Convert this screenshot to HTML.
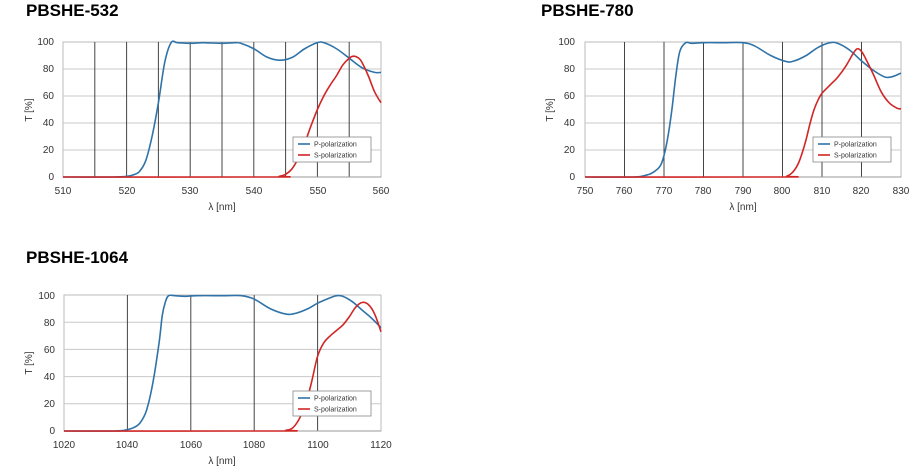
<!DOCTYPE html>
<html><head><meta charset="utf-8"><style>
html,body{margin:0;padding:0;background:#fff;}
svg{display:block;font-family:"Liberation Sans",Arial,sans-serif;}
.t{font-weight:bold;font-size:17px;fill:#000;}
.tk{font-size:10px;fill:#333;}
.lg{font-size:7px;fill:#333;}
</style></head><body>
<svg id="s" width="915" height="475" viewBox="0 0 915 475" xmlns="http://www.w3.org/2000/svg">
<text class="t" x="26" y="16">PBSHE-532</text>
<text class="t" x="541" y="16">PBSHE-780</text>
<text class="t" x="26" y="263">PBSHE-1064</text>
<g id="g"></g>
<!-- chart1 labels -->
<g class="tk" text-anchor="end">
<text x="54" y="45">100</text><text x="54" y="72">80</text><text x="54" y="99">60</text><text x="54" y="126">40</text><text x="54" y="153">20</text><text x="54" y="180">0</text>
<text x="575" y="45">100</text><text x="575" y="72">80</text><text x="575" y="99">60</text><text x="575" y="126">40</text><text x="575" y="153">20</text><text x="575" y="180">0</text>
<text x="55" y="299">100</text><text x="55" y="326">80</text><text x="55" y="353">60</text><text x="55" y="380">40</text><text x="55" y="407">20</text><text x="55" y="434">0</text>
</g>
<g class="tk" text-anchor="middle">
<text x="63" y="194">510</text><text x="127" y="194">520</text><text x="190" y="194">530</text><text x="254" y="194">540</text><text x="318" y="194">550</text><text x="381" y="194">560</text>
<text x="585" y="194">750</text><text x="624" y="194">760</text><text x="664" y="194">770</text><text x="703" y="194">780</text><text x="743" y="194">790</text><text x="782" y="194">800</text><text x="822" y="194">810</text><text x="861" y="194">820</text><text x="901" y="194">830</text>
<text x="64" y="448">1020</text><text x="127" y="448">1040</text><text x="191" y="448">1060</text><text x="254" y="448">1080</text><text x="318" y="448">1100</text><text x="381" y="448">1120</text>
<text x="222" y="210">λ [nm]</text><text x="743" y="210">λ [nm]</text><text x="222" y="464">λ [nm]</text>
<text transform="translate(32,110) rotate(-90)">T [%]</text>
<text transform="translate(553,110) rotate(-90)">T [%]</text>
<text transform="translate(32,363) rotate(-90)">T [%]</text>
</g>
</svg>
<script>
var g=document.getElementById('g'),NS='http://www.w3.org/2000/svg';
function el(n,a){var e=document.createElementNS(NS,n);for(var k in a)e.setAttribute(k,a[k]);g.appendChild(e);return e;}
function path(pts,fx,fy,c){var p=pts.map(function(q){return [fx(q[0]),fy(q[1])];});
var d='M'+p[0][0]+','+p[0][1];
for(var i=0;i<p.length-1;i++){var p0=p[Math.max(i-1,0)],p1=p[i],p2=p[i+1],p3=p[Math.min(i+2,p.length-1)];
d+=' C'+(p1[0]+(p2[0]-p0[0])/6)+','+(p1[1]+(p2[1]-p0[1])/6)+' '+(p2[0]-(p3[0]-p1[0])/6)+','+(p2[1]-(p3[1]-p1[1])/6)+' '+p2[0]+','+p2[1];}
el('path',{d:d,fill:'none',stroke:c,'stroke-width':1.6});}
function chart(L,R,T,B,x0,x1,vg,P,S,lx,ly){
 var fx=function(v){return L+(v-x0)*(R-L)/(x1-x0)},fy=function(v){return B-v*(B-T)/100};
 el('rect',{x:L,y:T,width:R-L,height:B-T,fill:'#fff',stroke:'#bbb','stroke-width':1});
 for(var i=1;i<5;i++)el('line',{x1:L,x2:R,y1:fy(i*20),y2:fy(i*20),stroke:'#c8c8c8','stroke-width':1});
 vg.forEach(function(v){el('line',{x1:fx(v),x2:fx(v),y1:T,y2:B,stroke:'#444','stroke-width':1});});
 el('line',{x1:L,x2:R,y1:B,y2:B,stroke:'#999'});
 path(P,fx,fy,'#2f73a8');path(S,fx,fy,'#d02626');
 el('rect',{x:lx,y:ly,width:78,height:25,fill:'#fff',stroke:'#888','stroke-width':0.8});
 el('line',{x1:lx+5,x2:lx+17,y1:ly+7,y2:ly+7,stroke:'#2f73a8','stroke-width':1.6});
 el('line',{x1:lx+5,x2:lx+17,y1:ly+18,y2:ly+18,stroke:'#d02626','stroke-width':1.6});
 var t=el('text',{x:lx+21,y:ly+9.5,'class':'lg'});t.textContent='P-polarization';
 t=el('text',{x:lx+21,y:ly+20.5,'class':'lg'});t.textContent='S-polarization';
}
chart(63,381,42,177,510,560,[515,520,525,530,535,540,545,550,555],
[[510,0],[518,0],[520,0.5],[521,1.5],[522,4],[523,12],[524,30],[525,55],[526,85],[527,99.5],[528,99.5],[530,99],[532,99.5],[535,99],[537,99.5],[538,99],[540,95],[542,89],[544,86.5],[546,88.5],[548,95],[550,99.5],[551,99.5],[553,95],[555,88],[557,81],[559,77.5],[560,77.5]],
[[510,0],[543,0],[544,0.5],[545,2],[546,6],[547,14],[548,25],[549,38],[550,50],[551,60],[552,68],[553,75],[554,83],[555,88],[555.7,89.5],[556.5,88],[557,85],[558,75],[559,63],[560,55]],293,137);
chart(585,901,42,177,750,830,[760,770,780,790,800,810,820],
[[750,0],[762,0],[765,1],[767,3],[769,8],[770,16],[771,30],[772,50],[773,75],[774,93],[775.5,99.5],[777,99],[780,99.5],[785,99.5],[790,99.5],[793,97],[797,90],[801,85.5],[803,86],[806,90],[809,96],[812,99.5],[814,99],[817,94],[820,86],[823,79],[826,74],[828,74.5],[830,77]],
[[750,0],[800,0],[801,0.5],[802,2],[803,5],[804,10],[805,18],[806,28],[807,40],[808,50],[809,57],[810,62],[812,68],[814,74],[816,82],[818,92],[819,95],[820,93],[821,88],[823,76],[825,63],[827,55],[829,51],[830,50.5]],813,137);
chart(64,381,295,431,1020,1120,[1040,1060,1080,1100],
[[1020,0],[1036,0],[1040,1],[1042,2.5],[1044,6],[1046,15],[1048,35],[1050,65],[1051,85],[1052,95],[1053,99.5],[1055,99.5],[1058,99],[1062,99.5],[1070,99.5],[1076,99.5],[1080,97],[1085,90],[1090,86],[1093,86.5],[1097,90],[1100,94],[1104,98],[1106,99.5],[1108,99],[1111,95],[1114,89],[1117,83],[1120,76]],
[[1020,0],[1088,0],[1090,0.5],[1092,2],[1094,8],[1096,18],[1098,35],[1100,55],[1102,65],[1104,70],[1106,74],[1108,78],[1110,84],[1112,91],[1114,94.5],[1116,93],[1118,86],[1120,73]],293,391);
</script>
</body></html>
